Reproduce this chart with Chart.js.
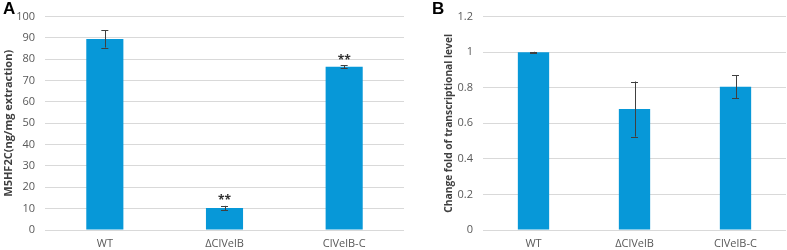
<!DOCTYPE html>
<html lang="en">
  <head>
    <meta charset="UTF-8" />
    <title>M5HF2C and transcription</title>
    <style>
      body {
        margin: 0;
        background: #fff;
      }
      #wrap {
        position: relative;
        width: 787px;
        height: 250px;
        overflow: hidden;
      }
      canvas {
        position: absolute;
        top: 0;
      }
      #chart-a {
        left: 0;
      }
      #chart-b {
        left: 405px;
      }
      .tag {
        position: absolute;
        font-family: Arial, 'Liberation Sans', sans-serif;
        font-weight: bold;
        font-size: 17px;
        color: #000;
      }
    </style>
  </head>
  <body>
    <div id="wrap">
      <canvas id="chart-a" width="405" height="250"></canvas>
      <canvas id="chart-b" width="382" height="250"></canvas>
      <div class="tag" style="left: 3px; top: -1px">A</div>
      <div class="tag" style="left: 432px; top: -1px">B</div>
    </div>
  </body>
  <script src="https://cdn.jsdelivr.net/npm/chart.js@4.4.0/dist/chart.umd.min.js"></script>
  <script>
    let categories = ['WT', '\u0394ClVelB', 'ClVelB-C'];

    // panel A: M5HF2C content
    let valuesA = [89.5, 10.3, 76.5];
    let errorsA = [4.0, 1.0, 0.7];
    let starsA = ['', '**', '**'];

    // panel B: relative transcription
    let valuesB = [1.0, 0.68, 0.805];
    let errorsB = [0.002, 0.155, 0.065];

    const barColor = '#0798d8';
    const fontFam = "'Open Sans', 'Liberation Sans', sans-serif";

    // draws error bars and significance stars from dataset values
    const errorBars = {
      id: 'errorBars',
      afterDatasetsDraw(chart, args, opts) {
        const ctx = chart.ctx;
        const meta = chart.getDatasetMeta(0);
        const y = chart.scales.y;
        ctx.save();
        meta.data.forEach((bar, i) => {
          let v = opts.values[i];
          let e = opts.errors[i];
          let top = y.getPixelForValue(v + e);
          let bot = y.getPixelForValue(v - e);
          ctx.strokeStyle = '#404040';
          ctx.lineWidth = 1;
          ctx.beginPath();
          ctx.moveTo(Math.round(bar.x) + 0.5, top);
          ctx.lineTo(Math.round(bar.x) + 0.5, bot);
          ctx.moveTo(bar.x - 3.5, Math.round(top) + 0.5);
          ctx.lineTo(bar.x + 3.5, Math.round(top) + 0.5);
          ctx.moveTo(bar.x - 3.5, Math.round(bot) + 0.5);
          ctx.lineTo(bar.x + 3.5, Math.round(bot) + 0.5);
          ctx.stroke();
          if (opts.stars && opts.stars[i]) {
            ctx.fillStyle = '#333';
            ctx.font = 'bold 12px ' + fontFam;
            ctx.textAlign = 'center';
            ctx.textBaseline = 'middle';
            ctx.fillText(opts.stars[i], bar.x, top - 5);
          }
        });
        ctx.restore();
      },
    };

    function makeChart(id, values, errors, stars, yMax, yStep, title, titleSize, padLeft, axisWidth, padTop) {
      return new Chart(document.getElementById(id), {
        type: 'bar',
        data: {
          labels: categories,
          datasets: [
            {
              data: values,
              backgroundColor: barColor,
              borderWidth: 0,
              categoryPercentage: 1,
              barPercentage: 0.31,
            },
          ],
        },
        plugins: [errorBars],
        options: {
          responsive: false,
          animation: false,
          devicePixelRatio: 1,
          layout: { padding: { top: padTop, left: padLeft, right: 1, bottom: 0 } },
          plugins: {
            legend: { display: false },
            tooltip: { enabled: false },
            errorBars: { values: values, errors: errors, stars: stars },
          },
          scales: {
            x: {
              grid: { display: false, drawTicks: false },
              border: { display: false },
              ticks: { color: '#595959', font: { family: fontFam, size: 11 }, padding: 7 },
              afterFit: (s) => {
                s.height = 20;
              },
            },
            y: {
              min: 0,
              max: yMax,
              ticks: {
                stepSize: yStep,
                color: '#595959',
                font: { family: fontFam, size: 11 },
                padding: 10,
                callback: (v) => String(Number(v.toFixed(1))),
              },
              grid: { color: '#d9d9d9', drawTicks: false },
              border: { display: false },
              title: {
                display: true,
                text: title,
                color: '#404040',
                font: { family: fontFam, size: titleSize, weight: 'bold' },
                padding: { top: 2, bottom: 0 },
              },
              afterFit: (s) => {
                s.width = axisWidth;
              },
            },
          },
        },
      });
    }

    makeChart('chart-a', valuesA, errorsA, starsA, 100, 10, 'M5HF2C(ng/mg extraction)', 11, 0, 45, 16);
    makeChart('chart-b', valuesB, errorsB, null, 1.2, 0.2, 'Change fold of transcriptional level', 10.2, 36, 42, 7);
  </script>
</html>
